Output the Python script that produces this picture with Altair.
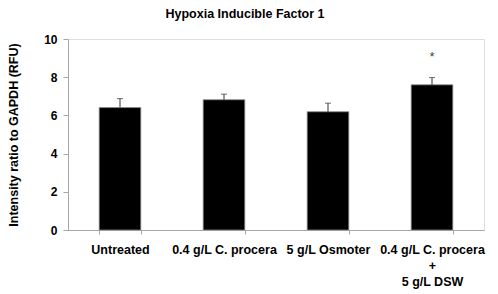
import altair as alt
import pandas as pd

categories = ["Untreated", "0.4 g/L C. procera", "5 g/L Osmoter", "0.4 g/L C. procera\n+\n5 g/L DSW"]
means = [6.41, 6.82, 6.19, 7.60]
errors = [0.47, 0.29, 0.45, 0.38]
significance = ["", "", "", "*"]
y_ticks = [0, 1, 2, 3, 4, 5, 6, 7, 8, 9, 10]

df = pd.DataFrame({
    "category": categories,
    "mean": means,
    "err": errors,
    "sig": significance,
})
df["upper"] = df["mean"] + df["err"]

FONT = "Liberation Sans"
AXIS_GREY = "#a6a6a6"

x_enc = alt.X(
    "category:N",
    sort=categories,
    scale=alt.Scale(paddingInner=0.6, paddingOuter=0.3),
    axis=alt.Axis(
        title=None,
        labelAngle=0,
        labelExpr="split(datum.label, '\\n')",
        labelFont=FONT,
        labelFontSize=12.5,
        labelFontWeight="bold",
        labelColor="#000000",
        labelLineHeight=16,
        labelPadding=9,
        labelLimit=400,
        labelOverlap=False,
        labelBound=False,
        tickBand="extent",
        tickSize=4,
        tickColor=AXIS_GREY,
        domainColor=AXIS_GREY,
    ),
)

y_scale = alt.Scale(domain=[0, 10], nice=False)

bars = alt.Chart(df).mark_bar(color="#000000", stroke="#8a8a8a", strokeWidth=0.8).encode(
    x=x_enc,
    y=alt.Y(
        "mean:Q",
        scale=y_scale,
        axis=alt.Axis(
            title="Intensity ratio to GAPDH (RFU)",
            values=y_ticks,
            tickCount=10,
            labelOverlap=False,
            grid=False,
            labelFont=FONT,
            labelFontSize=12,
            labelFontWeight="bold",
            labelColor="#000000",
            labelPadding=6,
            tickSize=5,
            tickColor=AXIS_GREY,
            domainColor=AXIS_GREY,
            titleFont=FONT,
            titleFontSize=12.5,
            titleFontWeight="bold",
            titleColor="#000000",
            titleX=-55,
            titleY=95.5,
            titleAngle=270,
            titleAlign="center",
            titleBaseline="middle",
        ),
    ),
)

err_rule = alt.Chart(df).mark_rule(color="#333333", strokeWidth=1).encode(
    x=alt.X("category:N", sort=categories),
    y=alt.Y("mean:Q", scale=y_scale),
    y2="upper:Q",
)

err_cap = alt.Chart(df).mark_tick(color="#333333", size=6, thickness=1, orient="horizontal").encode(
    x=alt.X("category:N", sort=categories),
    y=alt.Y("upper:Q", scale=y_scale),
)

stars = alt.Chart(df).mark_text(
    font=FONT, fontSize=13, color="#444444", baseline="middle", dy=-21
).encode(
    x=alt.X("category:N", sort=categories),
    y=alt.Y("upper:Q", scale=y_scale),
    text="sig:N",
)

chart = alt.layer(bars, err_rule, err_cap, stars).properties(
    width=416,
    height=191,
    title=alt.TitleParams(
        text="Hypoxia Inducible Factor 1",
        font=FONT,
        fontSize=12.5,
        fontWeight="bold",
        color="#000000",
        anchor="middle",
        frame="group",
        dx=-31,
        offset=13,
    ),
    padding={"left": 60, "top": 31, "right": 6, "bottom": 64},
    autosize=alt.AutoSizeParams(type="none"),
).configure_view(stroke=None).configure(background="#ffffff")

chart.save("out.html", embed_options={"renderer": "svg", "actions": False})
